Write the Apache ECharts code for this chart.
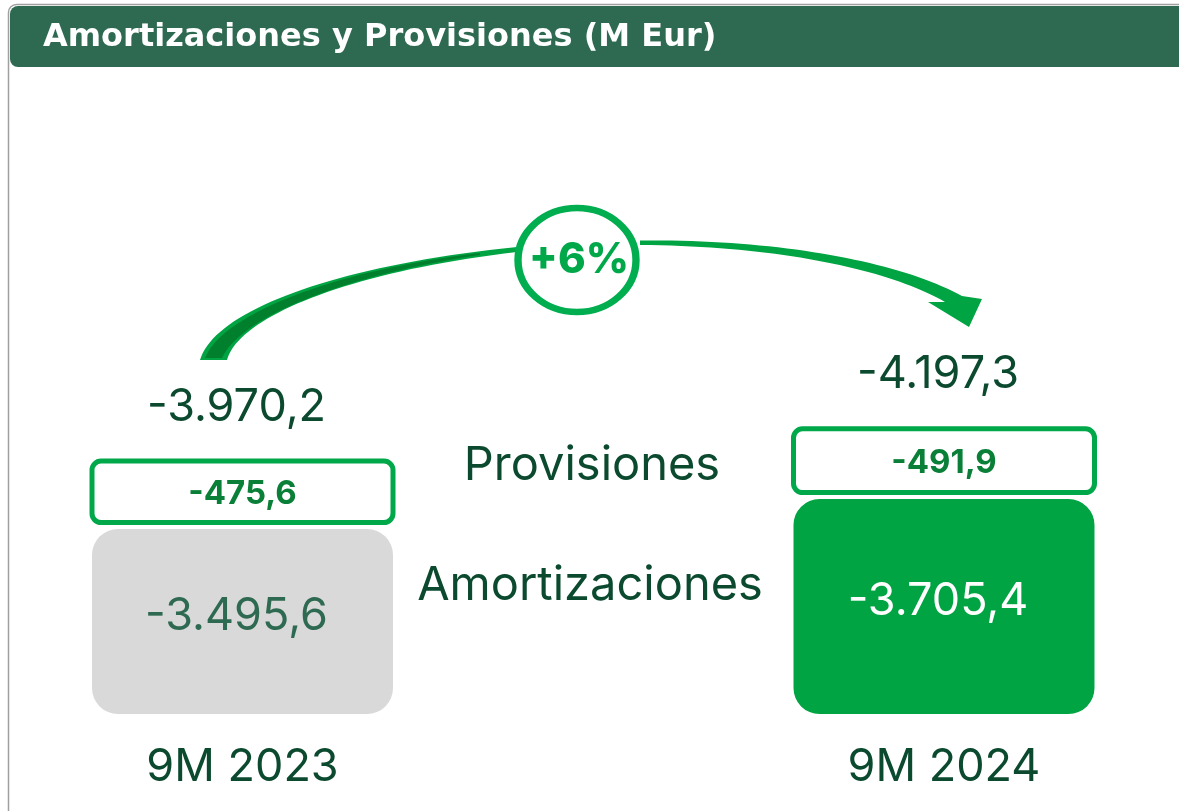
<!DOCTYPE html>
<html>
<head>
<meta charset="utf-8">
<script src="https://cdn.jsdelivr.net/npm/echarts@6/dist/echarts.min.js"></script>
<style>
html,body{margin:0;padding:0;background:#fff;}
#chart{width:1179px;height:811px;}
</style>
</head>
<body>
<div id="chart"></div>
<script>
const title = 'Amortizaciones y Provisiones (M Eur)';
const categories = ['9M 2023', '9M 2024'];
const amortizaciones = [-3495.6, -3705.4];
const provisiones = [-475.6, -491.9];
const totals = [-3970.2, -4197.3];
const seriesNames = ['Provisiones', 'Amortizaciones'];
const variation = '+6%';

function fmt(v) {
  const s = Math.abs(v).toFixed(1).split('.');
  const intPart = s[0].replace(/\B(?=(\d{3})+(?!\d))/g, '.');
  return (v < 0 ? '-' : '') + intPart + ',' + s[1];
}

const AXIS_MIN = -6500, AXIS_MAX = -2200;
const BAR_W = 301;
const DARK = '#0b4a2f';
const GREEN = '#00a443';
const HEADER = '#2e6a51';
const FONT = 'Inter, "Noto Sans", sans-serif';
const TFONT = '"DejaVu Sans", Inter, sans-serif';

// sample a cubic bezier into points (decorative arrow)
function bez(p0, p1, p2, p3, n) {
  const pts = [];
  for (let k = 0; k <= n; k++) {
    const t = k / n, u = 1 - t;
    pts.push([
      u*u*u*p0[0] + 3*u*u*t*p1[0] + 3*u*t*t*p2[0] + t*t*t*p3[0],
      u*u*u*p0[1] + 3*u*u*t*p1[1] + 3*u*t*t*p2[1] + t*t*t*p3[1]
    ]);
  }
  return pts;
}
const leftArrow = bez([200,360],[214,312],[330,266],[517,247],40)
  .concat(bez([517,252],[345,272],[238,318],[227,360],40));
const leftArrowCore = bez([205,358],[222,314],[335,270],[480,253],40)
  .concat(bez([480,255],[340,276],[240,318],[222,358],40));
const rightArrow = bez([640,240.5],[780,239],[900,262],[962,296],40)
  .concat([[982,299],[969,327],[928,302]])
  .concat(bez([945,302],[890,270],[780,246],[640,245],40));

const data = categories.map((c, i) => [i, amortizaciones[i], provisiones[i], totals[i]]);

function renderItem(params, api) {
  const i = api.value(0);
  const a = api.value(1);
  const p = api.value(2);
  const t = api.value(3);
  const x = api.coord([i, a])[0];
  const yA = api.coord([i, a])[1];
  const yT = api.coord([i, a + p])[1];
  const yBase = api.coord([i, AXIS_MAX])[1];
  const gap = 6.5;
  const barFill = i === 0 ? '#d9d9d9' : GREEN;
  const amortTxt = i === 0 ? HEADER : '#ffffff';
  return {
    type: 'group',
    children: [
      {
        type: 'rect',
        shape: { x: x - BAR_W / 2, y: yA, width: BAR_W, height: yBase - yA, r: 26 },
        style: { fill: barFill }
      },
      {
        type: 'text',
        style: {
          x: x - 6, y: (yA + yBase) / 2 - 5, text: fmt(a), align: 'center', verticalAlign: 'middle',
          fill: amortTxt, font: '400 45px ' + FONT
        }
      },
      {
        type: 'rect',
        shape: { x: x - BAR_W / 2, y: yT, width: BAR_W, height: (yA - gap) - yT, r: 9 },
        style: { fill: '#ffffff', stroke: '#00a84a', lineWidth: 5 }
      },
      {
        type: 'text',
        style: {
          x: x, y: (yT + yA - gap) / 2 + 2, text: fmt(p), align: 'center', verticalAlign: 'middle',
          fill: '#0a7f38', font: '700 33px ' + FONT
        }
      },
      {
        type: 'text',
        style: {
          x: x - 6, y: yT - 54, text: fmt(t), align: 'center', verticalAlign: 'middle',
          fill: DARK, font: '400 45px ' + FONT
        }
      }
    ]
  };
}

const chart = echarts.init(document.getElementById('chart'), null, { renderer: 'canvas' });
chart.setOption({
  backgroundColor: '#ffffff',
  animation: false,
  grid: { left: 242.5, right: 235, top: 100, bottom: 97 },
  xAxis: {
    type: 'category', data: categories, boundaryGap: false,
    axisLine: { show: false }, axisTick: { show: false }, splitLine: { show: false },
    axisLabel: { color: DARK, fontSize: 45, fontFamily: FONT, margin: 31 }
  },
  yAxis: {
    type: 'value', inverse: true, min: AXIS_MIN, max: AXIS_MAX,
    show: false, splitLine: { show: false }
  },
  series: [{
    type: 'custom', renderItem: renderItem, data: data, clip: false,
    encode: { x: 0, y: 1 }
  }],
  graphic: [
    { type: 'rect', z: 0, shape: { x: 8.5, y: 4.5, width: 1200, height: 900, r: 8 },
      style: { fill: 'none', stroke: '#a0a0a0', lineWidth: 1.5 } },
    { type: 'rect', z: 1, shape: { x: 10, y: 6, width: 1200, height: 61, r: 8 },
      style: { fill: HEADER } },
    { type: 'text', z: 2, x: 43, y: 38,
      style: { text: title, fill: '#ffffff', font: '700 32px ' + TFONT, verticalAlign: 'middle' } },
    { type: 'text', z: 2, x: 592, y: 466,
      style: { text: seriesNames[0], fill: DARK, font: '400 47px ' + FONT, align: 'center', verticalAlign: 'middle' } },
    { type: 'text', z: 2, x: 590, y: 586,
      style: { text: seriesNames[1], fill: DARK, font: '400 47px ' + FONT, align: 'center', verticalAlign: 'middle' } },
    { type: 'polygon', z: 2, shape: { points: leftArrow },
      style: { fill: '#00a443' } },
    { type: 'polygon', z: 2, shape: { points: leftArrowCore },
      style: { fill: '#007f2d' } },
    { type: 'polygon', z: 2, shape: { points: rightArrow },
      style: { fill: GREEN } },
    { type: 'circle', z: 3, x: 577, y: 260, scaleX: 59 / 52, scaleY: 1,
      shape: { cx: 0, cy: 0, r: 52 },
      style: { fill: '#ffffff', stroke: '#00ad4f', lineWidth: 6.5 } },
    { type: 'text', z: 4, x: 579, y: 260,
      style: { text: variation, fill: '#00a84a', font: '800 42px ' + FONT, align: 'center', verticalAlign: 'middle' } }
  ]
});
</script>
</body>
</html>
